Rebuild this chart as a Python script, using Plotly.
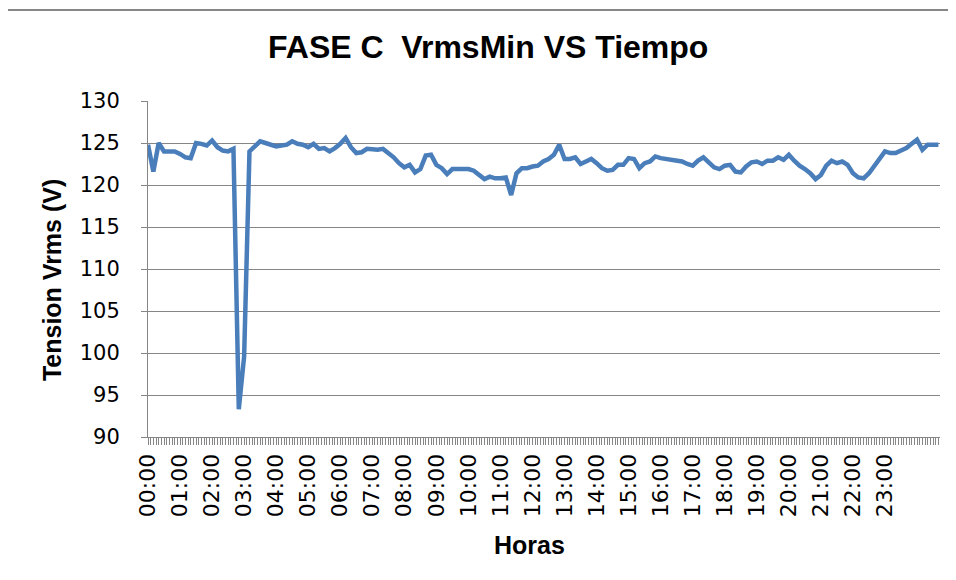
import plotly.graph_objects as go

# Sampling grid: one reading every 10 minutes starting at 00:00
minutes = list(range(0, 1490, 10))

# Vrms minimum, phase C
vrms_min = [
    124.8, 121.6, 125.0, 124.0, 124.0, 124.0, 123.7, 123.3, 123.2, 125.0,
    124.9, 124.7, 125.3, 124.5, 124.1, 124.0, 124.3, 93.3, 99.6, 124.0,
    124.6, 125.2, 125.0, 124.8, 124.6, 124.7, 124.8, 125.2, 124.9, 124.8,
    124.5, 124.9, 124.3, 124.4, 124.0, 124.4, 124.9, 125.6, 124.5, 123.8,
    123.9, 124.3, 124.2, 124.2, 124.3, 123.8, 123.3, 122.6, 122.1, 122.4,
    121.5, 121.9, 123.5, 123.6, 122.4, 122.0, 121.3, 121.9, 121.9, 121.9,
    121.9, 121.7, 121.2, 120.7, 121.0, 120.8, 120.8, 120.9, 118.8, 121.4,
    122.0, 122.0, 122.2, 122.3, 122.8, 123.1, 123.6, 124.8, 123.1, 123.1,
    123.3, 122.5, 122.8, 123.1, 122.6, 122.0, 121.7, 121.8, 122.4, 122.4,
    123.2, 123.1, 122.0, 122.6, 122.8, 123.4, 123.2, 123.1, 123.0, 122.8,
    122.8, 122.5, 122.3, 122.9, 123.3, 122.7, 122.1, 121.9, 122.3, 122.4,
    121.6, 121.5, 122.2, 122.7, 122.8, 122.5, 122.9, 122.9, 123.3, 123.0,
    123.6, 122.9, 122.3, 121.9, 121.4, 120.7, 121.2, 122.3, 122.9, 122.6,
    122.8, 122.4, 121.4, 120.9, 120.8, 121.4, 122.3, 123.3, 124.0, 123.8,
    123.8, 124.1, 124.4, 124.9, 125.4, 124.2, 124.8, 124.8, 124.8,
]

hour_ticks = [h * 60 for h in range(24)]
hour_labels = [f"{h:02d}:00" for h in range(24)]

grey = "#868686"

fig = go.Figure()
fig.add_trace(go.Scatter(
    x=minutes,
    y=vrms_min,
    mode="lines",
    line=dict(color="#4a7ebb", width=4.5),
    showlegend=False,
))

fig.update_xaxes(
    range=[0, 1483],
    tickmode="array",
    tickvals=hour_ticks,
    ticktext=hour_labels,
    tickangle=-90,
    ticks="outside",
    ticklen=7,
    tickcolor=grey,
    showline=True,
    linecolor=grey,
    linewidth=1,
    showgrid=False,
    zeroline=False,
    automargin=False,
    tickfont=dict(family="DejaVu Sans", size=22, color="black"),
    minor=dict(dtick=5, tick0=0, ticks="outside", ticklen=7, tickcolor=grey, showgrid=False),
)

fig.update_yaxes(
    range=[90, 130],
    dtick=5,
    ticks="outside",
    ticklen=6,
    tickcolor=grey,
    showline=True,
    linecolor=grey,
    linewidth=1,
    showgrid=True,
    gridcolor=grey,
    gridwidth=1,
    zeroline=False,
    automargin=False,
    ticklabelstandoff=17,
    tickfont=dict(family="DejaVu Sans", size=21, color="black"),
)

# chart-area frame: only the top and left edges fall inside the picture
frame = dict(type="line", xref="paper", yref="paper",
             line=dict(color=grey, width=2), layer="below")

# page body adds an 8px offset all round; keep the figure inside the window
fig.update_layout(
    width=940,
    height=564,
    margin=dict(l=140, r=8, t=93, b=135),
    paper_bgcolor="white",
    plot_bgcolor="white",
    shapes=[
        dict(frame, x0=-0.1818, x1=1.03, y0=1.2708, y1=1.2708),
        dict(frame, x0=-0.1818, x1=-0.1818, y0=-0.45, y1=1.2708),
    ],
    annotations=[
        dict(text="<b>FASE C  VrmsMin VS Tiempo</b>", xref="paper", yref="paper",
             x=0.4293, y=1.1607, showarrow=False, xanchor="center", yanchor="middle",
             font=dict(family="Liberation Sans", size=32, color="black")),
        dict(text="<b>Horas</b>", xref="paper", yref="paper",
             x=0.4823, y=-0.3214, showarrow=False, xanchor="center", yanchor="middle",
             font=dict(family="Liberation Sans", size=25, color="black")),
        dict(text="<b>Tension Vrms (V)</b>", xref="paper", yref="paper",
             x=-0.1212, y=0.467, showarrow=False, textangle=-90,
             xanchor="center", yanchor="middle",
             font=dict(family="Liberation Sans", size=25, color="black")),
    ],
)

fig.write_html("out.html", config={"displayModeBar": False})
